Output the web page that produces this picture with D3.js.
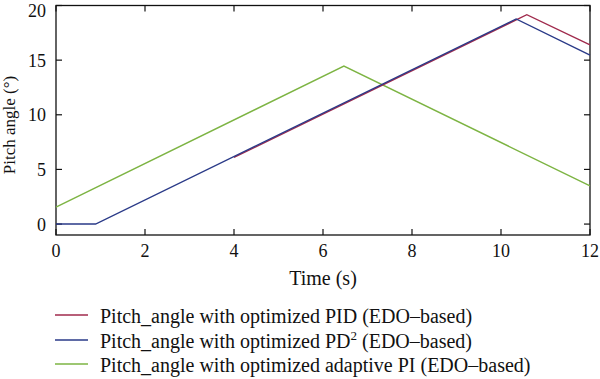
<!DOCTYPE html>
<html><head><meta charset="utf-8">
<script src="https://cdn.jsdelivr.net/npm/d3@7"></script>
<style>body{margin:0;background:#fff}svg{display:block}text{font-family:"Liberation Serif","DejaVu Serif",serif;fill:#111}</style>
</head><body><svg id="c" width="600" height="379"></svg>
<script>
const xTicks=[0,2,4,6,8,10,12];
const yTicks=[0,5,10,15,20];
const pidT=[4,10.58,12];
const pidV=[6.1,19.16,16.39];
const pd2T=[0,0.89,10.34,12];
const pd2V=[0,0,18.77,15.47];
const apiT=[0,6.47,12];
const apiV=[1.55,14.46,3.5];
const seriesNames=["Pitch_angle with optimized PID (EDO–based)","Pitch_angle with optimized PD","Pitch_angle with optimized adaptive PI (EDO–based)"];
const colors=["#a02a4c","#2a3a88","#7db443"];

const svg=d3.select("#c");
const L=56,R=590,T=5.5,B=235;
const x=d3.scaleLinear().domain([0,12]).range([L,R]);
const y=d3.scaleLinear().domain([-1,20]).range([B,T]);
const g=svg.append("g");
const tl=6;
g.append("rect").attr("x",L).attr("y",T).attr("width",R-L).attr("height",B-T).attr("fill","none").attr("stroke","#111").attr("stroke-width",1.3);
xTicks.forEach(t=>{
  g.append("line").attr("x1",x(t)).attr("x2",x(t)).attr("y1",B).attr("y2",B-tl).attr("stroke","#111").attr("stroke-width",1.2);
  g.append("line").attr("x1",x(t)).attr("x2",x(t)).attr("y1",T).attr("y2",T+tl).attr("stroke","#111").attr("stroke-width",1.2);
  g.append("text").attr("x",x(t)).attr("y",B+22).attr("text-anchor","middle").attr("font-size",18).text(t);
});
yTicks.forEach(v=>{
  g.append("line").attr("x1",L).attr("x2",L+tl).attr("y1",y(v)).attr("y2",y(v)).attr("stroke","#111").attr("stroke-width",1.2);
  g.append("line").attr("x1",R).attr("x2",R-tl).attr("y1",y(v)).attr("y2",y(v)).attr("stroke","#111").attr("stroke-width",1.2);
  g.append("text").attr("x",L-10).attr("y",Math.max(y(v)+6.5,17)).attr("text-anchor","end").attr("font-size",18).text(v);
});
const line=d3.line().x(d=>x(d[0])).y(d=>y(d[1]));
const data=[[pidT,pidV],[pd2T,pd2V],[apiT,apiV]];
[2,0,1].forEach(i=>{
  const pts=data[i][0].map((t,j)=>[t,data[i][1][j]]);
  g.append("path").attr("d",line(pts)).attr("fill","none").attr("stroke",colors[i]).attr("stroke-width",1.4);
});
g.append("text").attr("x",(L+R)/2).attr("y",285).attr("text-anchor","middle").attr("font-size",20).text("Time (s)");
g.append("text").attr("transform","translate(15,125) rotate(-90)").attr("text-anchor","middle").attr("font-size",17).text("Pitch angle (°)");
const lb=[323,348,372];
seriesNames.forEach((n,i)=>{
  g.append("line").attr("x1",55).attr("x2",88).attr("y1",lb[i]-8).attr("y2",lb[i]-8).attr("stroke",colors[i]).attr("stroke-width",1.4);
  const t=g.append("text").attr("x",100).attr("y",lb[i]).attr("font-size",20);
  if(i===1){
    t.append("tspan").text(n);
    t.append("tspan").attr("dy",-8).attr("font-size",13).text("2");
    t.append("tspan").attr("dy",8).text(" (EDO–based)");
  } else t.text(n);
});
</script></body></html>
